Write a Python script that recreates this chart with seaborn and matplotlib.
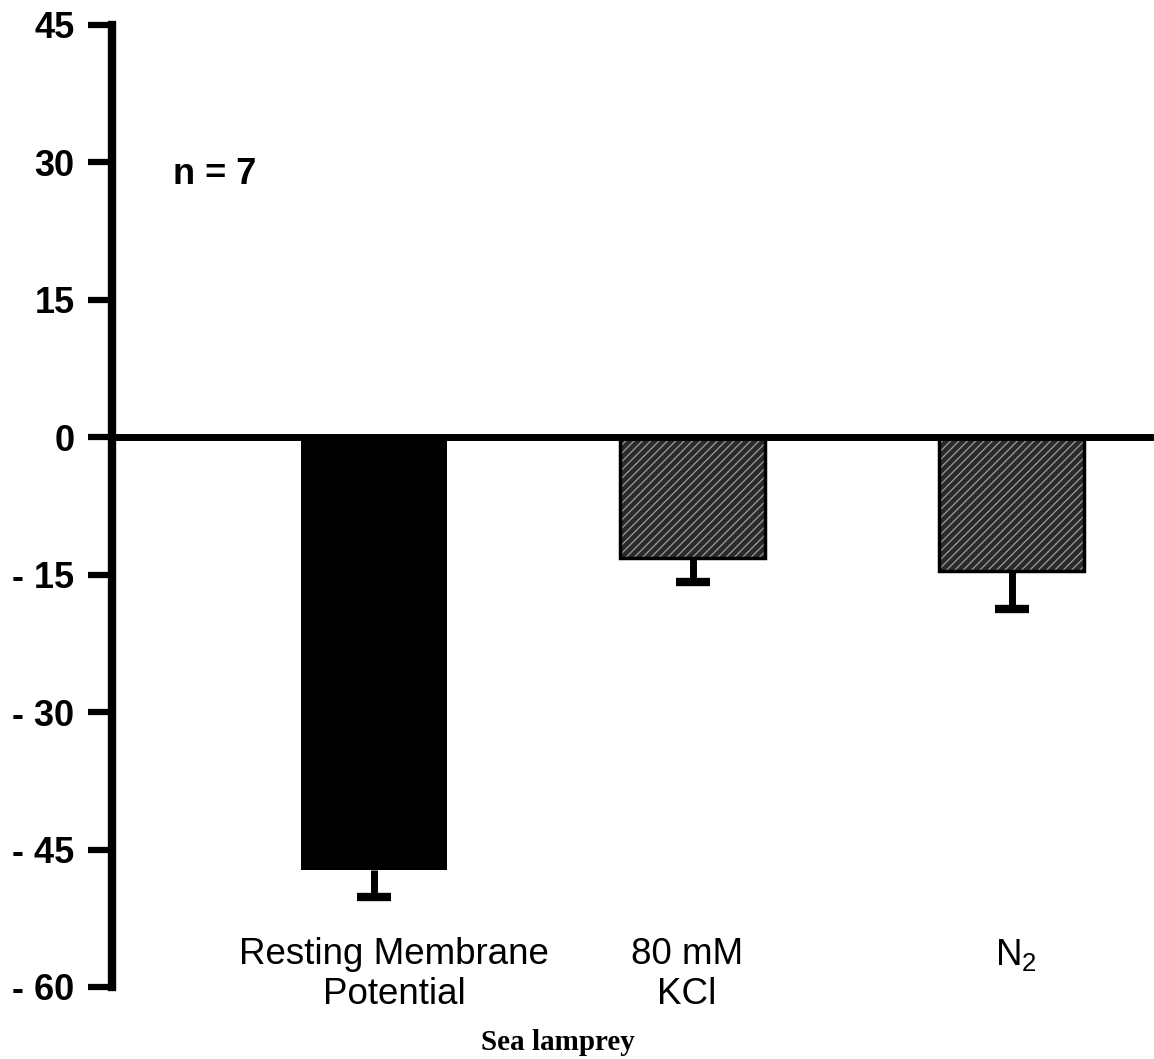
import numpy as np
import pandas as pd
import matplotlib
matplotlib.use("Agg")
import matplotlib.pyplot as plt
from matplotlib.patches import Rectangle
import seaborn as sns

# ---- data ----
categories = ["Resting Membrane\nPotential", "80 mM\nKCl", r"N$_2$"]
values = [-47.2, -13.2, -14.6]
err_low = [3.0, 2.6, 4.1]
yticks = [-60, -45, -30, -15, 0, 15, 30, 45]
ytick_labels = ["- 60", "- 45", "- 30", "- 15", "0", "15", "30", "45"]
bar_colors = ["#000000", "#2a2a2a", "#2a2a2a"]
hatched = [False, True, True]
annotation = "n = 7"
xlabel = "Sea lamprey"

# label nudges (layout only, in category units)
label_shift = [0.063, -0.018, 0.014]

sns.set_style("white")
plt.rcParams["font.family"] = ["Liberation Sans", "DejaVu Sans"]
plt.rcParams["mathtext.default"] = "regular"
plt.rcParams["hatch.linewidth"] = 0.9
for k in ["text.color", "xtick.color", "ytick.color", "axes.labelcolor"]:
    plt.rcParams[k] = "black"

fig = plt.figure(figsize=(11.54, 10.59), dpi=100)
ax = fig.add_axes([112 / 1154, 1 - 987 / 1059, 1 - 112 / 1154, 962 / 1059])

df = pd.DataFrame({"cat": categories, "val": values})
sns.barplot(data=df, x="cat", y="val", hue="cat", palette=bar_colors,
            legend=False, width=0.455, saturation=1, ax=ax, errorbar=None)

for p, h in zip(ax.patches, hatched):
    p.set_zorder(2)
    if h:
        p.set_edgecolor("#9c9c9c")
        p.set_hatch("////")
        p.set_linewidth(0)
        ax.add_patch(Rectangle(p.get_xy(), p.get_width(), p.get_height(),
                               fill=False, edgecolor="black", lw=2.5, zorder=3))
    else:
        p.set_edgecolor("black")
        p.set_linewidth(0)

x = np.arange(len(categories))
vals = np.array(values)
errs = np.array(err_low)
# stems (downward only)
ax.errorbar(x, vals, yerr=[errs, np.zeros(len(errs))], fmt="none",
            ecolor="black", elinewidth=5, capsize=0, zorder=4)
# caps only at the lower end
ax.plot(x, vals - errs, ls="none", marker="_", markersize=24,
        markeredgewidth=6, color="black", zorder=4)

ax.axhline(0, color="black", lw=5, zorder=5)

ax.set_xlim(-0.822, 2.447)
ax.set_ylim(-60, 45)
ax.set_yticks(yticks)
ax.set_yticklabels(ytick_labels, fontsize=26, fontweight="bold")
ax.tick_params(axis="y", direction="out", length=17, width=4.5, pad=10, left=True)

ax.set_xticks(x + np.array(label_shift))
ax.set_xticklabels(categories, fontsize=26.5, va="top", linespacing=1.2)
ax.tick_params(axis="x", length=0, pad=-36, bottom=False)

for s in ["top", "right", "bottom"]:
    ax.spines[s].set_visible(False)
ax.spines["left"].set_linewidth(6)
ax.spines["left"].set_color("black")
ax.set_xlabel("")
ax.set_ylabel("")
ax.set_facecolor("white")

ax.text((173 - 112) / 1042, (987 - 174) / 962, annotation, transform=ax.transAxes,
        fontsize=26, fontweight="bold", ha="left", va="center")

fig.text(558 / 1154, 1 - 1050 / 1059, xlabel, fontsize=21, fontweight="bold",
         family=["Liberation Serif", "DejaVu Serif"], ha="center", va="baseline")

fig.savefig("out.png", dpi=100, facecolor="white")
